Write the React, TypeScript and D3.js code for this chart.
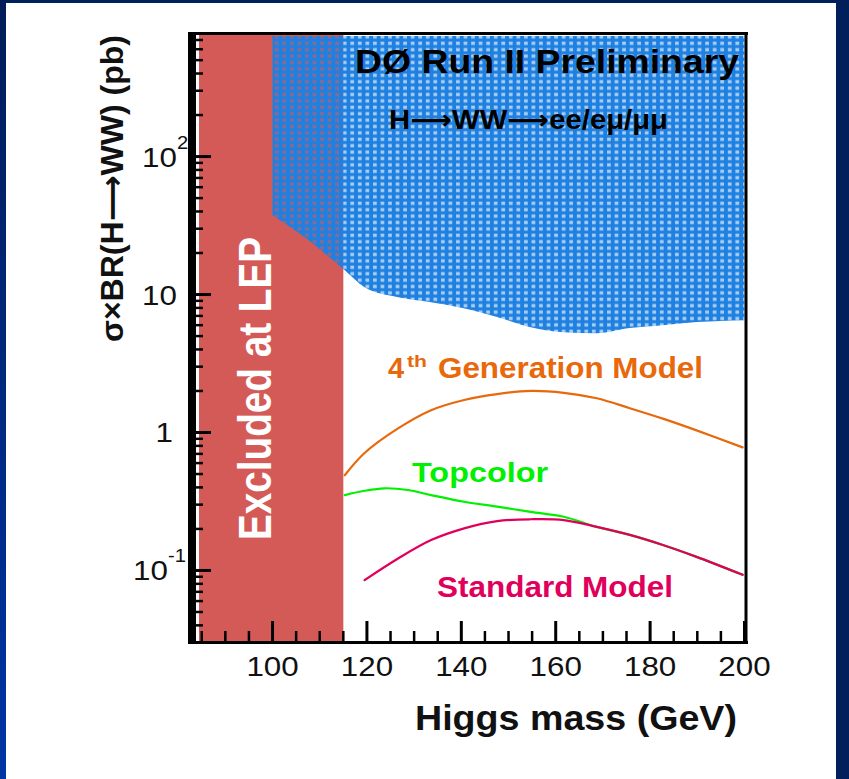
import React from 'react';
import * as d3 from 'd3';

// ---------- data ----------
const lepExcludedBelow = 115; // GeV
const blueStartMass = 100;
const excludedMass = [100, 107.6, 115.3, 119.5, 126.6, 133.6, 140.5, 147.7, 154.7, 161.6, 168.8, 175.7, 182.7, 189.9, 200];
const excludedXsec = [37.6, 24.8, 15.0, 11.3, 9.57, 8.81, 7.96, 6.85, 5.8, 5.34, 5.25, 5.71, 6.0, 6.31, 6.52];

const gen4Mass = [115.3, 119.5, 126.6, 133.6, 140.6, 147.6, 154.7, 161.7, 168.7, 175.7, 182.7, 189.7, 199.6];
const gen4Xsec = [0.49, 0.71, 1.07, 1.45, 1.72, 1.9, 2.0, 1.94, 1.77, 1.5, 1.26, 1.04, 0.78];

const topMass = [115.3, 119.5, 123.7, 128.7, 133.6, 140.6, 147.6, 154.7, 161.7, 168.7, 175.7, 182.7, 189.7, 199.6];
const topXsec = [0.352, 0.378, 0.394, 0.383, 0.352, 0.315, 0.29, 0.266, 0.245, 0.207, 0.181, 0.153, 0.126, 0.093];

const smMass = [119.5, 126.6, 133.6, 140.6, 147.6, 154.7, 161.7, 168.7, 175.7, 182.7, 189.7, 199.6];
const smXsec = [0.085, 0.122, 0.166, 0.202, 0.228, 0.235, 0.232, 0.207, 0.181, 0.153, 0.126, 0.093];

const xMajorTicks = [100, 120, 140, 160, 180, 200];
const xMinorTicks = [85, 90, 95, 105, 110, 115, 125, 130, 135, 145, 150, 155, 165, 170, 175, 185, 190, 195];
const yMajorTicks = [0.1, 1, 10, 100];
const yTickBase = ['10', '1', '10', '10'];
const yTickExp = ['-1', '', '', '2'];
const yMinorMult = [2, 3, 4, 5, 6, 7, 8, 9];
const yMinorDecades = [0.01, 0.1, 1, 10, 100];

// ---------- layout ----------
const W = 849, H = 779;
const FONT = '"Liberation Sans", Arial, Helvetica, "DejaVu Sans", sans-serif';
const RED = '#d45a58';
const BLUE = '#1e80e0';
const ORANGE = '#e8680c';
const GREEN = '#00f000';
const PINK = '#e0005c';

export default function App() {
  const x = d3.scaleLinear().domain([83, 200]).range([192.3, 744.5]);
  const y = d3.scaleLog().domain([0.0303, 780]).range([642, 33.5]);

  const plotL = 196, plotR = 745, plotT = 35, plotB = 641;

  const line = d3.line<[number, number]>()
    .x(d => x(d[0]))
    .y(d => y(d[1]))
    .curve(d3.curveCatmullRom.alpha(0.5));

  const area = d3.area<[number, number]>()
    .x(d => x(d[0]))
    .y0(() => y(2000))
    .y1(d => y(d[1]))
    .curve(d3.curveMonotoneX);

  const excl = excludedMass.map((m, i) => [m, excludedXsec[i]] as [number, number]);
  const gen4 = gen4Mass.map((m, i) => [m, gen4Xsec[i]] as [number, number]);
  const topc = topMass.map((m, i) => [m, topXsec[i]] as [number, number]);
  const sm = smMass.map((m, i) => [m, smXsec[i]] as [number, number]);

  const yMinor: number[] = [];
  yMinorDecades.forEach(dd => yMinorMult.forEach(k => {
    const v = dd * k;
    if (v > 0.0303 && v < 780) yMinor.push(v);
  }));

  const sx = 1.12;
  const tr = (tx: number, ty: number, s = sx, rot = false) =>
    `translate(${tx},${ty}) scale(${s},1)${rot ? ' rotate(-90)' : ''}`;

  return (
    <svg width={W} height={H} style={{ position: 'absolute', left: 0, top: 0, background: '#fff' }}
      fontFamily={FONT}>
      <defs>
        <pattern id="bluegrid" patternUnits="userSpaceOnUse" x={401.3} y={200.1} width={7.55} height={6.4}>
          <path d="M0 0 H7.55 V6.4 H0 Z M2 1.5 v3.4 h3.6 v-3.4 Z" fillRule="evenodd" fill={BLUE} />
          <rect x={2} y={1.5} width={3.6} height={3.4} fill={BLUE} opacity={0.4} />
        </pattern>
        <clipPath id="plotclip">
          <rect x={plotL} y={plotT + 1} width={plotR - plotL} height={plotB - plotT - 1} />
        </clipPath>
        <linearGradient id="leftstrip" x1="0" y1="0" x2="0" y2="1">
          <stop offset="0" stopColor="#001c58" />
          <stop offset="1" stopColor="#0035a5" />
        </linearGradient>
      </defs>

      <rect x={0} y={0} width={W} height={H} fill="#fff" />
      {/* slide frame */}
      <rect x={0} y={0} width={W} height={3} fill="#001f5b" />
      <rect x={0} y={0} width={6} height={H} fill="url(#leftstrip)" />
      <rect x={836} y={0} width={13} height={H} fill="#001f5b" />

      {/* LEP excluded region */}
      <rect x={199} y={plotT} width={x(lepExcludedBelow) - 199} height={plotB - plotT} fill={RED} />

      {/* Run II excluded region */}
      <g clipPath="url(#plotclip)">
        <path d={area(excl.filter(d => d[0] >= blueStartMass)) || ''} fill="url(#bluegrid)" />
      </g>

      {/* curves */}
      <g fill="none" strokeWidth={2.2} strokeLinecap="round">
        <path d={line(gen4) || ''} stroke={ORANGE} />
        <path d={line(topc) || ''} stroke={GREEN} />
        <path d={line(sm) || ''} stroke={PINK} />
      </g>

      {/* frame */}
      <rect x={188} y={32} width={560} height={3} fill="#000" />
      <rect x={188} y={32} width={8} height={612} fill="#000" />
      <rect x={744.5} y={32} width={3} height={612} fill="#000" />
      <rect x={188} y={641} width={560} height={3} fill="#000" />

      {/* x ticks */}
      {xMajorTicks.map(t => (
        <rect key={'xM' + t} x={x(t) - 1.5} y={621} width={3} height={20} fill="#000" />
      ))}
      {xMinorTicks.map(t => (
        <rect key={'xm' + t} x={x(t) - 1.25} y={631} width={2.5} height={10} fill="#000" />
      ))}
      {/* y ticks */}
      {yMajorTicks.map(t => (
        <rect key={'yM' + t} x={196} y={y(t) - 1.5} width={15} height={3} fill="#000" />
      ))}
      {yMinor.map(t => (
        <rect key={'ym' + t} x={196} y={y(t) - 1.25} width={7} height={2.5} fill="#000" />
      ))}

      {/* x tick labels */}
      {xMajorTicks.map(t => (
        <text key={'xl' + t} transform={tr(x(t), 676)} textAnchor="middle" fontSize={28} fill="#111">{t}</text>
      ))}
      {/* y tick labels */}
      {yMajorTicks.map((t, i) => {
        const hasExp = yTickExp[i] !== '';
        const baseEnd = i === 0 ? 168 : i === 2 ? 177 : i === 3 ? 177 : 173;
        return (
          <g key={'yl' + t}>
            <text transform={tr(baseEnd, y(t) + 10)} textAnchor="end" fontSize={28} fill="#111">{yTickBase[i]}</text>
            {hasExp && (
              <text transform={tr(baseEnd, y(t) - 8)} textAnchor="start" fontSize={18} fill="#111">{yTickExp[i]}</text>
            )}
          </g>
        );
      })}

      {/* axis titles */}
      <text x={415} y={730} fontSize={35} fontWeight="bold" fill="#111" textLength={322} lengthAdjust="spacingAndGlyphs">Higgs mass (GeV)</text>
      <text transform={tr(123, 188.5, 1.15, true)} textAnchor="middle" fontSize={28} fontWeight="bold" fill="#111"
        textLength={307} lengthAdjust="spacingAndGlyphs">σ×BR(H⟶WW) (pb)</text>

      {/* annotations */}
      <text transform={tr(271, 388.5, 1.2, true)} textAnchor="middle" fontSize={38} fontWeight="bold" fill="#fff"
        textLength={303} lengthAdjust="spacingAndGlyphs">Excluded at LEP</text>
      <text x={355} y={72.7} fontSize={33.5} fontWeight="bold" fill="#000" textLength={384} lengthAdjust="spacingAndGlyphs">DØ Run II Preliminary</text>
      <text x={389} y={129} fontSize={27} fontWeight="bold" fill="#000" textLength={279} lengthAdjust="spacingAndGlyphs">H⟶WW⟶ee/eμ/μμ</text>

      <text x={388} y={378} fontSize={29} fontWeight="bold" fill={ORANGE}>4</text>
      <text x={407} y={367} fontSize={16} fontWeight="bold" fill={ORANGE} textLength={20} lengthAdjust="spacingAndGlyphs">th</text>
      <text x={438} y={378} fontSize={29} fontWeight="bold" fill={ORANGE} textLength={265} lengthAdjust="spacingAndGlyphs">Generation Model</text>
      <text x={412} y={482} fontSize={28} fontWeight="bold" fill={GREEN} textLength={136} lengthAdjust="spacingAndGlyphs">Topcolor</text>
      <text x={437} y={597} fontSize={29} fontWeight="bold" fill={PINK} textLength={236} lengthAdjust="spacingAndGlyphs">Standard Model</text>
    </svg>
  );
}
